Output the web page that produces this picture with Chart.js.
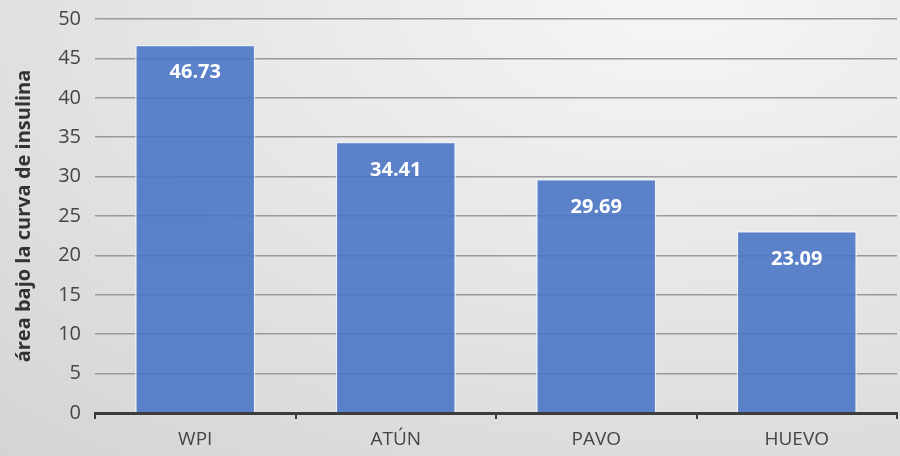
<!DOCTYPE html>
<html>
<head>
<meta charset="utf-8">
<script src="https://cdn.jsdelivr.net/npm/chart.js@4/dist/chart.umd.min.js"></script>
<style>
  html, body { margin: 0; padding: 0; }
  body {
    width: 900px; height: 456px; overflow: hidden;
    background: radial-gradient(ellipse 120% 140% at 75% 0%, #f6f6f6 0%, #e6e6e6 45%, #d2d2d2 100%);
  }
  #wrap { position: relative; width: 900px; height: 456px; }
</style>
</head>
<body>
<div id="wrap"><canvas id="bar-chart" width="900" height="456"></canvas></div>
<script>
let categories = ['WPI', 'ATÚN', 'PAVO', 'HUEVO'];
let auc = [46.73, 34.41, 29.69, 23.09];
let yTicks = [0, 5, 10, 15, 20, 25, 30, 35, 40, 45, 50];

// white value labels inside the top of each bar
const valueLabels = {
  id: 'valueLabels',
  afterDatasetsDraw(chart) {
    let ctx = chart.ctx;
    let meta = chart.getDatasetMeta(0);
    ctx.save();
    ctx.fillStyle = '#ffffff';
    ctx.font = 'bold 20px "Open Sans", sans-serif';
    ctx.textAlign = 'center';
    ctx.textBaseline = 'middle';
    meta.data.forEach((bar, i) => {
      ctx.fillText(auc[i].toFixed(2), bar.x, bar.y + 28);
    });
    ctx.restore();
  }
};

let ctx = document.getElementById('bar-chart').getContext('2d');
let chart = new Chart(ctx, {
  type: 'bar',
  data: {
    labels: categories,
    datasets: [{
      data: auc,
      backgroundColor: 'rgba(75,117,197,0.9)',
      borderColor: 'rgba(235,242,252,0.85)',
      borderWidth: 1.5,
      categoryPercentage: 0.6,
      barPercentage: 1.0
    }]
  },
  options: {
    responsive: false,
    animation: false,
    layout: { padding: { top: 19, right: 3, left: 0, bottom: 0 } },
    plugins: { legend: { display: false }, tooltip: { enabled: false } },
    scales: {
      x: {
        border: { display: true, color: '#3c3c3c', width: 3 },
        grid: { display: true, drawOnChartArea: false, drawTicks: true, tickLength: 6, color: '#3c3c3c', lineWidth: 2, offset: true },
        ticks: { color: '#454545', font: { family: '"Open Sans", sans-serif', size: 19 }, padding: 9 },
        afterFit: s => { s.height = 43; }
      },
      y: {
        min: 0, max: 50,
        afterBuildTicks: s => { s.ticks = yTicks.map(v => ({ value: v })); },
        border: { display: false },
        grid: { color: '#9a9a9a', lineWidth: 1.5, drawTicks: false },
        ticks: { color: '#454545', font: { family: '"Open Sans", sans-serif', size: 20 }, padding: 14 },
        title: {
          display: true,
          text: 'área bajo la curva de insulina',
          color: '#333333',
          font: { family: '"Open Sans", sans-serif', size: 20, weight: 'bold' },
          padding: { top: 12, bottom: 0 }
        },
        afterFit: s => { s.width = 95; s.paddingTop = 0; s.paddingBottom = 0; }
      }
    }
  },
  plugins: [valueLabels]
});
</script>
</body>
</html>
